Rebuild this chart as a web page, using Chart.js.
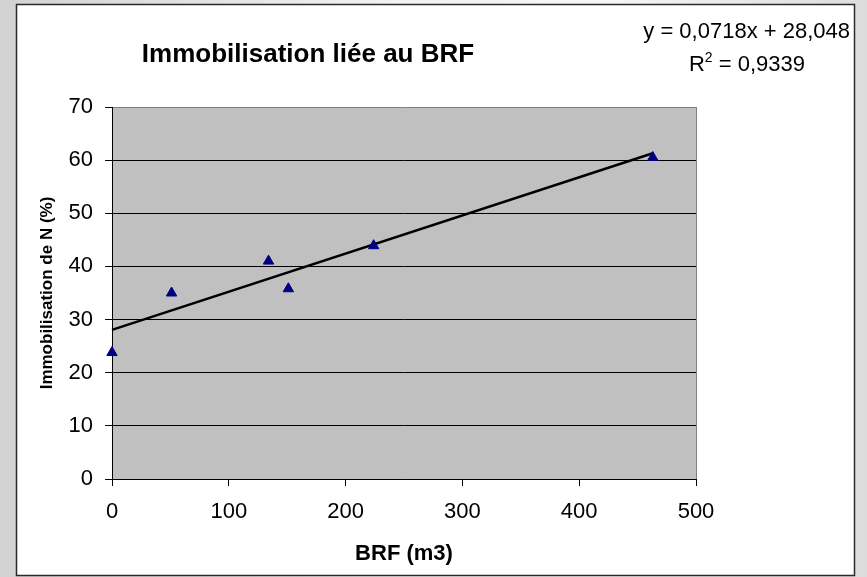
<!DOCTYPE html>
<html>
<head>
<meta charset="utf-8">
<script src="https://cdn.jsdelivr.net/npm/chart.js@4.4.1/dist/chart.umd.min.js"></script>
<style>
  html, body { margin: 0; padding: 0; }
  body {
    width: 867px; height: 577px; overflow: hidden;
    background: linear-gradient(to right, #d2d2d2 0%, #f2f2f2 45%, #f6f6f6 70%, #dcdcdc 100%);
  }
  canvas { display: block; }
</style>
</head>
<body>
<canvas id="myChart" width="867" height="577"></canvas>
<script>
// data
const brfValues = [0, 51, 134, 151, 224, 463];
const immobValues = [23.8, 35.0, 41.0, 35.8, 43.9, 60.5];
const trendX = [0, 463];
const trendY = [28.05, 61.3];
const xTicks = [0, 100, 200, 300, 400, 500];
const yTicks = [0, 10, 20, 30, 40, 50, 60, 70];

const chartTitle = "Immobilisation liée au BRF";
const equationText = "y = 0,0718x + 28,048";
const r2Value = " = 0,9339";

const points = brfValues.map((x, i) => ({ x: x, y: immobValues[i] }));
const trend = trendX.map((x, i) => ({ x: x, y: trendY[i] }));

const frame = {
  id: 'frame',
  beforeDraw(chart) {
    const { ctx, chartArea } = chart;
    ctx.save();
    ctx.fillStyle = '#ffffff';
    ctx.fillRect(16, 4, 839, 572);
    ctx.strokeStyle = '#2a2a2a';
    ctx.lineWidth = 1.5;
    ctx.strokeRect(16.5, 4.5, 838, 571);
    ctx.fillStyle = '#c0c0c0';
    ctx.fillRect(chartArea.left, chartArea.top, chartArea.right - chartArea.left, chartArea.bottom - chartArea.top);
    ctx.restore();
  },
  afterDraw(chart) {
    const ctx = chart.ctx;
    ctx.save();
    ctx.fillStyle = '#000';
    ctx.textBaseline = 'middle';
    // chart title
    ctx.font = 'bold 26px "Liberation Sans"';
    ctx.textAlign = 'center';
    ctx.fillText(chartTitle, 308, 55);
    // trendline equation
    ctx.font = '22px "Liberation Sans"';
    ctx.textAlign = 'right';
    ctx.fillText(equationText, 850, 32);
    // R² line
    ctx.textAlign = 'left';
    const wR = ctx.measureText('R').width;
    const wRest = ctx.measureText(r2Value).width;
    ctx.font = '14px "Liberation Sans"';
    const w2 = ctx.measureText('2').width;
    let x = 747 - (wR + w2 + wRest) / 2;
    ctx.font = '22px "Liberation Sans"';
    ctx.fillText('R', x, 65);
    ctx.font = '14px "Liberation Sans"';
    ctx.fillText('2', x + wR, 58);
    ctx.font = '22px "Liberation Sans"';
    ctx.fillText(r2Value, x + wR + w2, 65);
    ctx.restore();
  }
};

const ctx = document.getElementById('myChart').getContext('2d');
const myChart = new Chart(ctx, {
  type: 'scatter',
  data: {
    datasets: [
      {
        label: 'Immobilisation',
        data: points,
        pointStyle: 'triangle',
        pointRadius: 6,
        backgroundColor: '#000080',
        borderColor: '#000080',
        borderWidth: 1,
        clip: false
      },
      {
        type: 'line',
        label: 'Tendance',
        data: trend,
        borderColor: '#000000',
        borderWidth: 2.5,
        pointRadius: 0,
        fill: false,
        clip: false
      }
    ]
  },
  options: {
    responsive: false,
    animation: false,
    devicePixelRatio: 1,
    layout: { padding: { left: 0, top: 107, right: 171, bottom: 0 } },
    plugins: {
      legend: { display: false },
      tooltip: { enabled: false },
      title: { display: false }
    },
    scales: {
      x: {
        type: 'linear',
        min: 0,
        max: 500,
        afterBuildTicks: (s) => { s.ticks = xTicks.map(v => ({ value: v })); },
        afterFit: (s) => { s.height = 98; },
        ticks: {
          color: '#000',
          padding: 13,
          font: { family: 'Liberation Sans', size: 22, lineHeight: 1.2 }
        },
        grid: {
          color: (c) => (c.tick && c.tick.value === 500 ? '#808080' : 'rgba(0,0,0,0)'),
          tickColor: '#000',
          tickLength: 7,
          lineWidth: 1
        },
        border: { color: '#000', width: 1 },
        title: {
          display: true,
          text: 'BRF (m3)',
          color: '#000',
          font: { family: 'Liberation Sans', size: 22, weight: 'bold', lineHeight: 1.2 },
          padding: { top: 0, bottom: 10 }
        }
      },
      y: {
        type: 'linear',
        min: 0,
        max: 70,
        afterBuildTicks: (s) => { s.ticks = yTicks.map(v => ({ value: v })); },
        afterFit: (s) => { s.width = 112; },
        ticks: {
          color: '#000',
          padding: 12,
          font: { family: 'Liberation Sans', size: 22, lineHeight: 1.2 }
        },
        grid: {
          color: (c) => (c.tick && c.tick.value === 70 ? '#808080' : '#000'),
          tickColor: '#000',
          tickLength: 7,
          lineWidth: 1
        },
        border: { color: '#000', width: 1 },
        title: {
          display: true,
          text: 'Immobilisation de N (%)',
          color: '#000',
          font: { family: 'Liberation Sans', size: 17, weight: 'bold', lineHeight: 1.2 },
          padding: { top: 37, bottom: 0 }
        }
      }
    }
  },
  plugins: [frame]
});
</script>
</body>
</html>
